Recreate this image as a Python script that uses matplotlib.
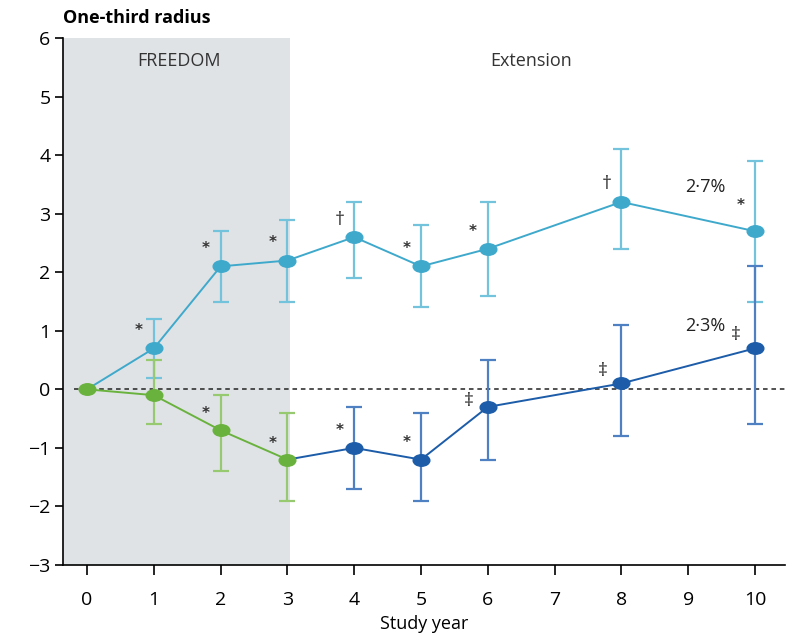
import matplotlib
matplotlib.use("Agg")
import matplotlib.pyplot as plt
from matplotlib.path import Path
from matplotlib.transforms import Affine2D

plt.rcParams['font.family'] = ['Open Sans', 'DejaVu Sans']

# Data
teal_years = [1, 2, 3, 4, 5, 6, 8, 10]
teal_vals = [0.7, 2.1, 2.2, 2.6, 2.1, 2.4, 3.2, 2.7]
teal_hi = [1.2, 2.7, 2.9, 3.2, 2.8, 3.2, 4.1, 3.9]
teal_lo = [0.2, 1.5, 1.5, 1.9, 1.4, 1.6, 2.4, 1.5]

green_years = [0, 1, 2, 3]
green_vals = [0.0, -0.1, -0.7, -1.2]
green_hi = [0.0, 0.5, -0.1, -0.4]
green_lo = [0.0, -0.6, -1.4, -1.9]

dark_years = [4, 5, 6, 8, 10]
dark_vals = [-1.0, -1.2, -0.3, 0.1, 0.7]
dark_hi = [-0.3, -0.4, 0.5, 1.1, 2.1]
dark_lo = [-1.7, -1.9, -1.2, -0.8, -0.6]

teal_marks = ['*', '*', '*', '†', '*', '*', '†', '*']
green_marks = ['', '', '*', '*']
dark_marks = ['*', '*', '‡', '‡', '‡']

xticks = list(range(0, 11))
yticks = list(range(-3, 7))

TEAL = '#3fa9cc'
TEAL_E = '#74c3dd'
GREEN = '#6ab23e'
GREEN_E = '#96c970'
DARK = '#1c5ca8'
DARK_E = '#4f80c2'

ELLIPSE = Path.unit_circle().transformed(Affine2D().scale(1.45, 1.0))

fig = plt.figure(figsize=(7.9, 6.38), dpi=100)
ax = fig.add_axes([63/790, (638-565)/638, (785-63)/790, (565-38)/638])
ax.set_xlim(-0.36, 10.45)
ax.set_ylim(-3, 6)

ax.axvspan(-0.36, 3.04, color='#e0e3e6', zorder=0, lw=0)
ax.axhline(0, xmin=0.015, color='#222222', ls=(0, (3, 2.5)), lw=1.1, zorder=1)

def err(vals, hi, lo):
    return [[v - l for v, l in zip(vals, lo)], [h - v for v, h in zip(vals, hi)]]

# error bars
ax.errorbar(teal_years, teal_vals, yerr=err(teal_vals, teal_hi, teal_lo), fmt='none',
            ecolor=TEAL_E, elinewidth=1.6, capsize=5.5, capthick=1.6, zorder=2)
ax.errorbar(green_years[1:], green_vals[1:], yerr=err(green_vals[1:], green_hi[1:], green_lo[1:]),
            fmt='none', ecolor=GREEN_E, elinewidth=1.6, capsize=5.5, capthick=1.6, zorder=2)
ax.errorbar(dark_years, dark_vals, yerr=err(dark_vals, dark_hi, dark_lo), fmt='none',
            ecolor=DARK_E, elinewidth=1.6, capsize=5.5, capthick=1.6, zorder=2)

# lines
ax.plot([green_years[0]] + teal_years, [green_vals[0]] + teal_vals, color=TEAL, lw=1.4,
        marker=ELLIPSE, ms=12, markevery=list(range(1, len(teal_years) + 1)), zorder=3)
ax.plot([green_years[-1]] + dark_years, [green_vals[-1]] + dark_vals, color=DARK, lw=1.4,
        marker=ELLIPSE, ms=12, markevery=list(range(1, len(dark_years) + 1)), zorder=3)
ax.plot(green_years, green_vals, color=GREEN, lw=1.4, marker=ELLIPSE, ms=12, zorder=4)

# significance markers
def mark(x, y, m):
    if not m:
        return
    if m == '*':
        ax.text(x, y, m, ha='center', va='center', fontsize=11, fontweight='bold',
                color='#333333', family=['DejaVu Sans'])
    else:
        ax.text(x, y, m, ha='center', va='center', fontsize=14, color='#333333')

for x, v, m in zip(teal_years, teal_vals, teal_marks):
    dy = 0.44 if x == 10 else 0.3
    mark(x - 0.22, v + dy, m)
for x, v, m in zip(green_years, green_vals, green_marks):
    mark(x - 0.22, v + 0.28, m)
for x, v, m in zip(dark_years, dark_vals, dark_marks):
    if m == '*':
        mark(x - 0.22, v + 0.3, m)
    else:
        mark(x - 0.28, v + (0.1 if x == 6 else 0.22), m)

ax.text(9.25, 3.45, '2·7%', ha='center', va='center', fontsize=13, color='#222222')
ax.text(9.25, 1.08, '2·3%', ha='center', va='center', fontsize=13, color='#222222')

ax.text(1.37, 5.6, 'FREEDOM', ha='center', va='center', fontsize=13, color='#333333')
ax.text(6.65, 5.6, 'Extension', ha='center', va='center', fontsize=13, color='#333333')

# axes styling
for s in ['top', 'right']:
    ax.spines[s].set_visible(False)
ax.spines['left'].set_linewidth(1.2)
ax.spines['bottom'].set_linewidth(1.2)
ax.set_xticks(xticks)
ax.set_yticks(yticks)
ax.set_yticklabels([str(t).replace('-', '−') for t in yticks])
ax.tick_params(axis='x', length=7, width=1.2, pad=12, labelsize=14, direction='out')
ax.tick_params(axis='y', length=6, width=1.2, pad=3, labelsize=14, direction='out')
ax.set_xlabel('Study year', fontsize=13, labelpad=4)

fig.text(63/790, 1 - 18/638, 'One-third radius', fontsize=13, fontweight='bold', va='center', ha='left')

fig.savefig('out.png', dpi=100)
